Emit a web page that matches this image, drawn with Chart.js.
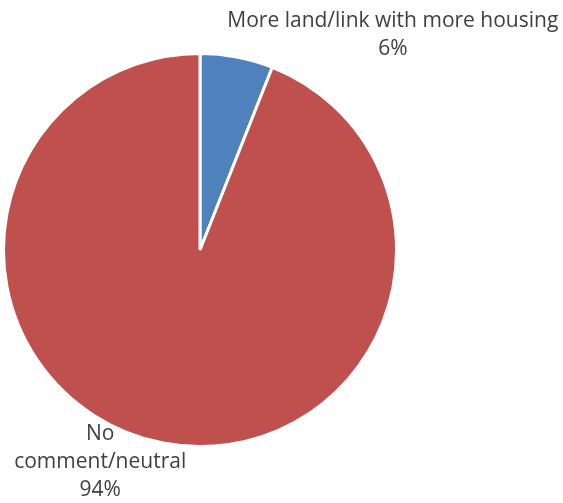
<!DOCTYPE html>
<html>
<head>
<meta charset="utf-8">
<script src="https://cdn.jsdelivr.net/npm/chart.js@4.4.1/dist/chart.umd.min.js"></script>
<style>
  html, body { margin: 0; padding: 0; background: #fff; }
  #wrap { width: 563px; height: 503px; }
</style>
</head>
<body>
<div id="wrap"><canvas id="pie"></canvas></div>
<script>
const categories = ['More land/link with more housing', 'No comment/neutral'];
const shares = [6, 94];
const labelLines = [
  ['More land/link with more housing', '6%'],
  ['No', 'comment/neutral', '94%']
];
const sliceColors = ['#4F81BD', '#C0504D'];

// label anchors, relative to the outer edge at each slice's middle angle
const labelOffsets = [
  { dx: 156, dy: -22 },
  { dx: -63, dy: 19 }
];

const outsideLabels = {
  id: 'outsideLabels',
  afterDatasetsDraw(chart) {
    const ctx = chart.ctx;
    const meta = chart.getDatasetMeta(0);
    ctx.save();
    ctx.font = '21px "Open Sans", sans-serif';
    ctx.fillStyle = '#404040';
    ctx.textAlign = 'center';
    ctx.textBaseline = 'middle';
    meta.data.forEach((arc, i) => {
      const mid = (arc.startAngle + arc.endAngle) / 2;
      const x = arc.x + Math.cos(mid) * arc.outerRadius + labelOffsets[i].dx;
      const y = arc.y + Math.sin(mid) * arc.outerRadius + labelOffsets[i].dy;
      const lines = labelLines[i];
      const lh = 28;
      const top = y - (lines.length - 1) * lh / 2;
      lines.forEach((t, k) => ctx.fillText(t, x, top + k * lh));
    });
    ctx.restore();
  }
};

new Chart(document.getElementById('pie'), {
  type: 'pie',
  data: {
    labels: categories,
    datasets: [{
      data: shares,
      backgroundColor: sliceColors,
      borderColor: '#ffffff',
      borderWidth: 3
    }]
  },
  options: {
    responsive: true,
    maintainAspectRatio: false,
    animation: false,
    layout: { padding: { left: 2, top: 52, right: 165, bottom: 55 } },
    plugins: {
      legend: { display: false },
      tooltip: { enabled: false }
    }
  },
  plugins: [outsideLabels]
});
</script>
</body>
</html>
